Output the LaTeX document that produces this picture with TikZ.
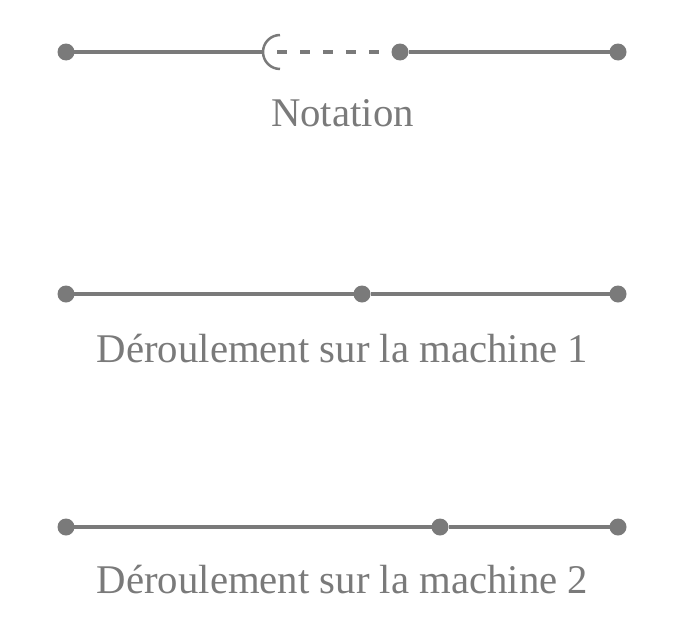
\documentclass[tikz,border=0pt]{standalone}
\usepackage{fontspec}
\setmainfont{Liberation Serif}
\definecolor{lgray}{RGB}{122,122,122}

\begin{document}
\begin{tikzpicture}[
	x=0.02cm, y=0.02cm,
	every node/.style={text=lgray},
	dot/.style={circle,fill=lgray,inner sep=0pt,outer sep=0pt,minimum size=0.34cm},
	lien/.style={draw=lgray,line width=0.07cm},
	pointille/.style={draw=lgray,line width=0.07cm,dash pattern=on 0.2cm off 0.26cm},
	titre/.style={anchor=base,font=\fontsize{23.2}{28}\selectfont}
	]
	\useasboundingbox (0,0) rectangle (685,627);
	% notation
	\node[dot] (n1) at (66,575) {};
	\node[dot] (n2) at (400,575) {};
	\node[dot] (n3) at (618,575) {};
	\coordinate (bordG) at (263,575);
	\coordinate (bordH) at (280,592);
	\coordinate (debut) at (277,575);
	\draw[lien] (n1) -- (bordG);
	\draw[draw=lgray,line width=0.05cm] (bordH) arc[start angle=90,end angle=270,radius=0.34cm];
	\draw[pointille] (debut) -- (n2);
	\draw[lien] (n2) -- (n3);
	\node[titre] (t0) at (342.5,501) {Notation};
	% machine 1
	\node[dot] (a1) at (66,333) {};
	\node[dot] (a2) at (362,333) {};
	\node[dot] (a3) at (618,333) {};
	\draw[lien] (a1) -- (a2);
	\draw[lien] (a2) -- (a3);
	\node[titre] (t1) at (342.5,265) {Déroulement sur la machine 1};
	% machine 2
	\node[dot] (b1) at (66,100) {};
	\node[dot] (b2) at (440,100) {};
	\node[dot] (b3) at (618,100) {};
	\draw[lien] (b1) -- (b2);
	\draw[lien] (b2) -- (b3);
	\node[titre] (t2) at (342.5,34) {Déroulement sur la machine 2};
\end{tikzpicture}
\end{document}
